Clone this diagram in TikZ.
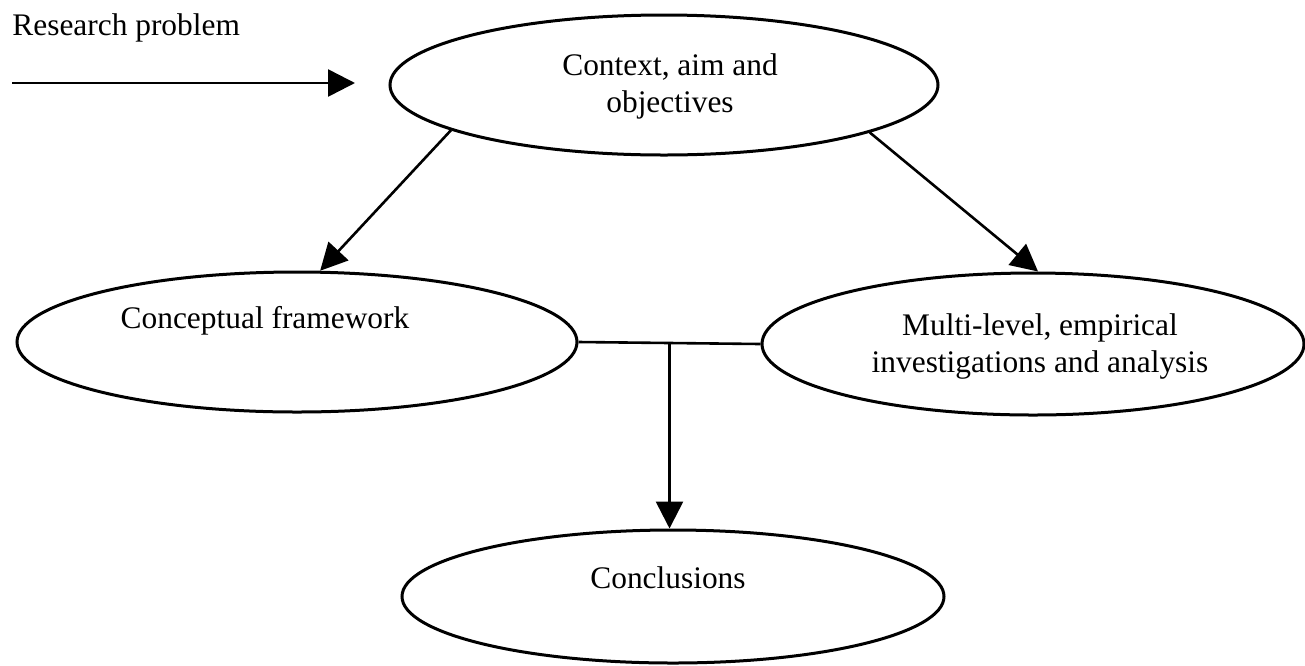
\documentclass[tikz,border=0pt]{standalone}
\usepackage{fontspec}
\setmainfont{Liberation Serif}
\usetikzlibrary{shapes.geometric,arrows.meta,calc}

\tikzset{
  oval/.style={draw, line width=1.5pt, ellipse, inner sep=0pt},
  txt/.style={font=\fontsize{15.7}{18.5}\selectfont, inner sep=0pt, align=center},
  link/.style={line width=1.3pt},
  arrowlink/.style={line width=1.3pt, -{Triangle[length=13.5pt,width=13.5pt]}}
}

\begin{document}
\begin{tikzpicture}[x=0.5pt, y=-0.5pt]
  \useasboundingbox (0,0) rectangle (1305,665);

  % the four stages
  \node[oval, minimum width=274pt, minimum height=70pt] (ctx) at (664,85) {};
  \node[oval, minimum width=280pt, minimum height=70pt] (cf) at (297,342) {};
  \node[oval, minimum width=271pt, minimum height=71pt] (mr) at (1033,344) {};
  \node[oval, minimum width=271pt, minimum height=66.5pt] (concl) at (673,596.5) {};

  % their captions
  \node[txt] (ctxtext) at (670,86) {Context, aim and\\objectives};
  \node[txt, anchor=base] (cftext) at (265,328) {Conceptual framework};
  \node[txt] (mrtext) at (1040,346.5) {Multi-level, empirical\\investigations and analysis};
  \node[txt, anchor=base] (concltext) at (668,588) {Conclusions};

  % incoming research problem
  \node[txt, anchor=base west] (rp) at (12,35) {Research problem};
  \coordinate (rpstart) at (12,83);
  \draw[arrowlink] (rpstart) -- (rpstart -| 355,0);

  % from the aims to the two strands of work
  \draw[arrowlink] (ctx.192) -- (cf.72);
  \draw[arrowlink] (ctx.347) -- (mr.86);

  % both strands join and lead to the conclusions
  \draw[link] (cf.east) -- (mr.west);
  \coordinate (j) at ($(cf.east)!0.5!(mr.west)$);
  \draw[arrowlink] (j) -- (j |- concl.north);
\end{tikzpicture}
\end{document}
